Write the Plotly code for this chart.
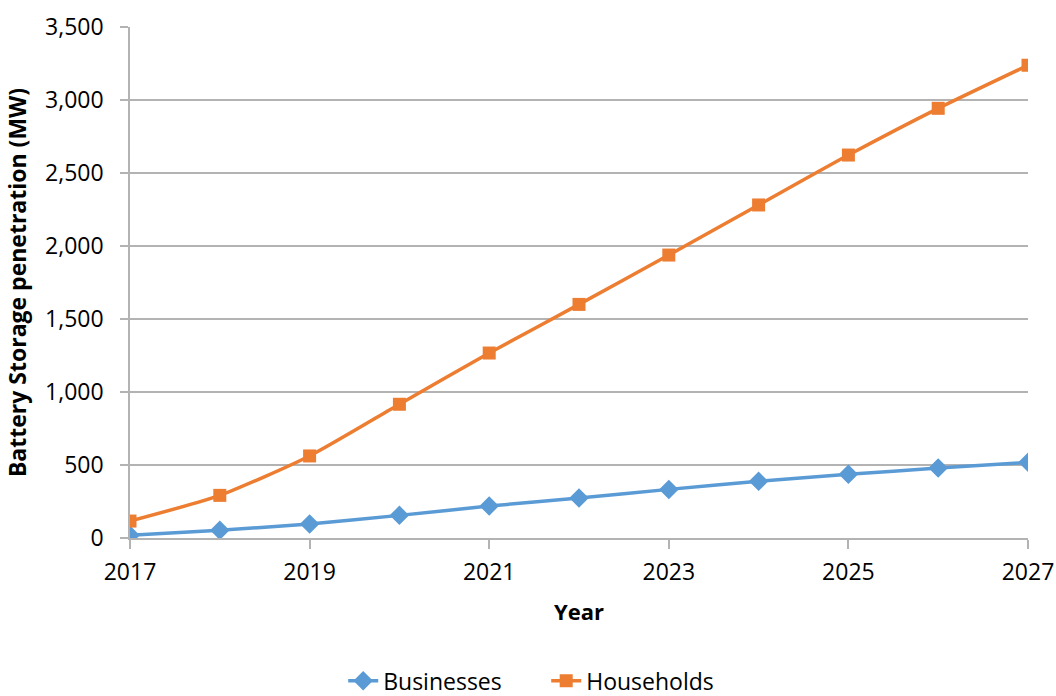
import plotly.graph_objects as go

years = [2017, 2018, 2019, 2020, 2021, 2022, 2023, 2024, 2025, 2026, 2027]
businesses = [18, 53, 96, 155, 219, 274, 333, 388, 436, 479, 518]
households = [116, 292, 562, 916, 1267, 1600, 1938, 2281, 2623, 2943, 3238]

y_ticks = [0, 500, 1000, 1500, 2000, 2500, 3000, 3500]
x_ticks = [2017, 2019, 2021, 2023, 2025, 2027]

FONT = "Open Sans"
GRID = "#b3b3b3"

fig = go.Figure()
fig.add_trace(go.Scatter(
    x=years, y=businesses, name="Businesses", mode="lines+markers",
    line=dict(color="#5b9bd5", width=3.5, shape="spline", smoothing=0.6),
    marker=dict(symbol="diamond", size=15, color="#5b9bd5"),
))
fig.add_trace(go.Scatter(
    x=years, y=households, name="Households", mode="lines+markers",
    line=dict(color="#ed7d31", width=3.5, shape="spline", smoothing=0.6),
    marker=dict(symbol="square", size=13, color="#ed7d31"),
))

fig.update_layout(
    width=1056, height=696,
    margin=dict(l=130, r=28, t=27, b=158),
    paper_bgcolor="white", plot_bgcolor="white",
    font=dict(family=FONT, size=23, color="black"),
    showlegend=True,
    legend=dict(orientation="h", xref="container", yref="container",
                x=0.325, xanchor="left", y=0.022, yanchor="middle",
                entrywidth=158, entrywidthmode="pixels",
                font=dict(size=23), tracegroupgap=0, borderwidth=0),
)
fig.update_xaxes(
    range=[2017, 2027], tickmode="array", tickvals=x_ticks, automargin=False,
    ticks="outside", ticklen=9, tickcolor=GRID, tickwidth=1.5, ticklabelstandoff=4,
    showline=True, linecolor=GRID, linewidth=1.5, showgrid=False, zeroline=False,
    title=dict(text="<b>Year</b>", font=dict(size=22), standoff=18),
)
fig.update_yaxes(
    range=[0, 3500], tickmode="array", tickvals=y_ticks, tickformat=",d", automargin=False,
    ticks="outside", ticklen=8, tickcolor=GRID, tickwidth=1.5, ticklabelstandoff=12,
    showline=True, linecolor=GRID, linewidth=1.5,
    showgrid=True, gridcolor=GRID, gridwidth=1.5, zeroline=False,
    title=dict(text="<b>Battery Storage penetration (MW)</b>", font=dict(size=23), standoff=12),
)

fig.write_html("out.html")
